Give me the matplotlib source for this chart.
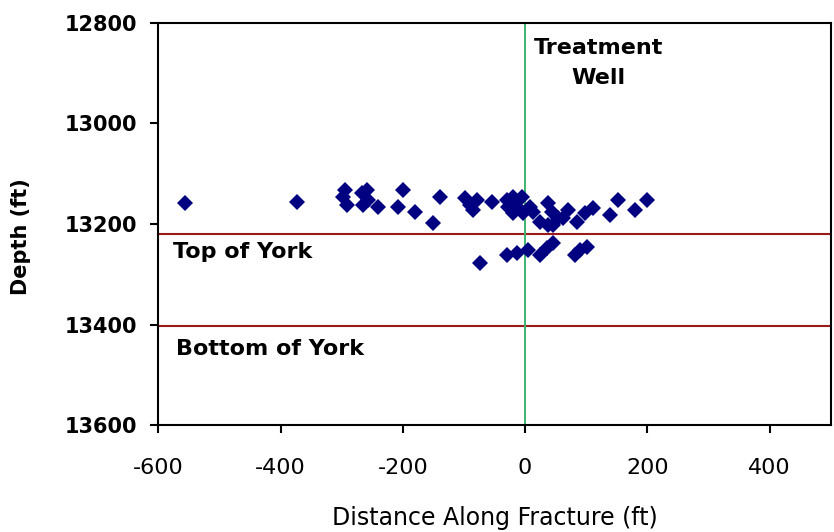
import matplotlib.pyplot as plt

# Microseismic event locations
distance = [-557, -374, -295, -298, -292, -267, -259, -257, -266, -241,
            -200, -208, -180, -151, -139, -98, -90, -79, -85, -74,
            -54, -30, -20, -5, -28, -13, -20, -3, 8, 13,
            25, 38, 44, 38, 54, 46, 70, 85, 98, 111,
            62, 139, 152, 180, 200, -13, 5, 25, 36, 46,
            82, 90, 102, -30]
depth = [13158, 13156, 13132, 13146, 13162, 13138, 13132, 13152, 13162, 13166,
         13132, 13166, 13176, 13198, 13146, 13148, 13162, 13152, 13172, 13278,
         13156, 13152, 13146, 13146, 13166, 13166, 13178, 13178, 13166, 13176,
         13196, 13158, 13176, 13202, 13188, 13202, 13172, 13196, 13178, 13168,
         13188, 13182, 13152, 13172, 13152, 13258, 13252, 13262, 13248, 13238,
         13262, 13252, 13246, 13262]

top_york = 13220
bottom_york = 13403
well_x = 0

plt.rcParams['font.family'] = ['DejaVu Sans']
plt.rcParams['axes.unicode_minus'] = False

fig = plt.figure(figsize=(8.34, 5.32), dpi=100)
ax = fig.add_axes([0.19, 0.201, 0.806, 0.756])

ax.axhline(top_york, color='#9b1a1a', lw=1.5, zorder=1)
ax.axhline(bottom_york, color='#9b1a1a', lw=1.5, zorder=1)
ax.axvline(well_x, color='#3cb371', lw=1.4, zorder=1)

ax.plot(distance, depth, 'D', color='#000080', ms=8, mew=0, zorder=3)

ax.text(120, 12850, 'Treatment', ha='center', va='center', fontsize=16, fontweight='bold')
ax.text(120, 12909, 'Well', ha='center', va='center', fontsize=16, fontweight='bold')
ax.text(-576, 13256, 'Top of York', ha='left', va='center', fontsize=16, fontweight='bold')
ax.text(-571, 13449, 'Bottom of York', ha='left', va='center', fontsize=16, fontweight='bold')

ax.set_xlim(-600, 500)
ax.set_ylim(13600, 12800)
ax.set_xticks([-600, -400, -200, 0, 200, 400])
ax.set_yticks([12800, 13000, 13200, 13400, 13600])
ax.tick_params(axis='y', labelsize=15, length=6, width=1.5, pad=9)
ax.tick_params(axis='x', labelsize=16, length=6, width=1.5, pad=18)
for lbl in ax.get_yticklabels():
    lbl.set_fontweight('bold')
for s in ax.spines.values():
    s.set_linewidth(1.5)

ax.set_xlabel('Distance Along Fracture (ft)', fontsize=17, labelpad=20)
ax.set_ylabel('Depth (ft)', fontsize=15, fontweight='bold')
ax.yaxis.set_label_coords(-0.19, 0.468)

fig.savefig('out.png', dpi=100)
